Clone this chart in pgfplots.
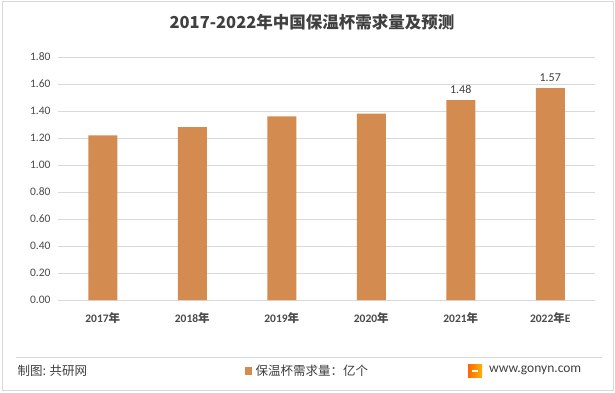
\documentclass[border=0pt]{standalone}
\usepackage{pgfplots}
\pgfplotsset{compat=1.18}
\usepackage{fontspec}
\setmainfont{Carlito}
\newfontfamily\cjk{Noto Sans CJK SC}
\definecolor{barc}{HTML}{D38B4F}
\definecolor{txt}{HTML}{4A4A4A}
\definecolor{ttl}{HTML}{404040}
\definecolor{grd}{HTML}{D9D9D9}
\begin{document}
\begin{tikzpicture}[x=1pt,y=1pt]
\fill[white] (0,0) rectangle (615,392);
\draw[grd,line width=1pt] (2,2) rectangle (613,390);
\begin{axis}[
  at={(58pt,92pt)}, anchor=south west,
  scale only axis, width=537pt, height=243pt,
  ymin=0, ymax=1.8, xmin=-0.5, xmax=5.5,
  ytick={0,0.2,...,1.8},
  yticklabel style={/pgf/number format/fixed,/pgf/number format/fixed zerofill,/pgf/number format/precision=2},
  /pgf/number format/assume math mode=true,
  xtick={0,1,2,3,4,5},
  xticklabels={2017{\cjk 年},2018{\cjk 年},2019{\cjk 年},2020{\cjk 年},2021{\cjk 年},2022{\cjk 年}E},
  tick style={draw=none},
  ymajorgrids, grid style={grd,line width=0.8pt},
  axis line style={draw=none},
  tick label style={font=\fontsize{11.5}{13}\selectfont, text=txt},
  xticklabel style={yshift=-9pt, font=\bfseries\fontsize{11.5}{13}\selectfont},
  yticklabel style={xshift=-4pt},
  clip=false,
]
\draw[grd,line width=0.8pt] (axis cs:-0.5,0) -- (axis cs:5.5,0);
\addplot[ybar, bar width=29pt, bar shift=0pt, fill=barc, draw=none] coordinates {
(0,1.22) (1,1.28) (2,1.36) (3,1.38) (4,1.48) (5,1.57)};
\addplot[ybar, bar width=29pt, bar shift=0pt, fill=none, draw=none,
  nodes near coords, nodes near coords style={font=\fontsize{12}{14}\selectfont, text=ttl, yshift=3pt,
  /pgf/number format/fixed,/pgf/number format/fixed zerofill,/pgf/number format/precision=2}] coordinates {
(4,1.48) (5,1.57)};
\end{axis}
\node[text=ttl, font=\cjk\bfseries\fontsize{16.5}{20}\selectfont] at (312,370) {2017-2022年中国保温杯需求量及预测};
\draw[grd,line width=0.8pt] (16,35) -- (602,35);
\node[anchor=west, text=ttl, font=\cjk\fontsize{12.5}{15}\selectfont] at (14,21) {制图: 共研网};
\fill[barc] (245,17) rectangle (252,25);
\node[anchor=west, text=ttl, font=\cjk\fontsize{12.5}{15}\selectfont] at (252,21) {保温杯需求量：亿个};
\shade[left color=orange!80!red, right color=orange!60!yellow] (468,15) rectangle (482,28);
\fill[white] (472,20) rectangle (478,22);
\node[anchor=west, text=ttl, font=\fontsize{13.5}{16}\selectfont, inner sep=0pt] at (489,22) {www.gonyn.com};
\end{tikzpicture}
\end{document}
